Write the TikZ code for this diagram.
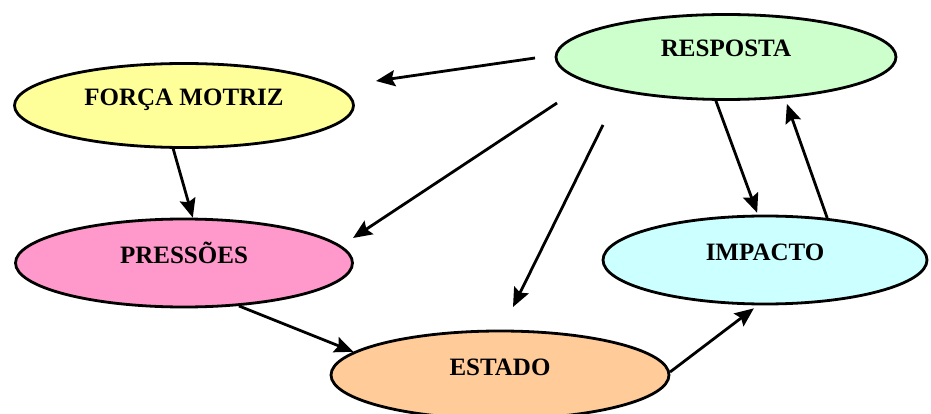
\documentclass[tikz,border=0pt]{standalone}
\usepackage{fontspec}
\setmainfont{Liberation Serif}
\usetikzlibrary{shapes.geometric,arrows.meta}

\definecolor{forcacol}{RGB}{255,255,153}
\definecolor{respostacol}{RGB}{204,255,204}
\definecolor{pressoescol}{RGB}{255,153,204}
\definecolor{impactocol}{RGB}{204,255,255}
\definecolor{estadocol}{RGB}{255,204,153}

\begin{document}
\begin{tikzpicture}[x=1pt,y=-1pt,
    bubble/.style={ellipse,draw,line width=2.8pt,inner sep=0pt,
        font=\fontsize{25}{30}\selectfont\bfseries,
        text height=17pt,text depth=17pt},
    flow/.style={line width=2.8pt,-{Stealth[length=19pt,width=16pt,inset=3pt]}}]

    % Fix the frame of the picture
    \useasboundingbox (0,0) rectangle (931,414);

    % Draw the five ellipses
    \node[bubble,fill=forcacol,minimum width=339pt,minimum height=84pt] (forca) at (184,105.5) {FORÇA MOTRIZ};
    \node[bubble,fill=respostacol,minimum width=340pt,minimum height=85pt] (resposta) at (726,57) {RESPOSTA};
    \node[bubble,fill=pressoescol,minimum width=337pt,minimum height=88pt] (pressoes) at (184,263) {PRESSÕES};
    \node[bubble,fill=impactocol,minimum width=324pt,minimum height=88pt] (impacto) at (765,260) {IMPACTO};
    \node[bubble,fill=estadocol,minimum width=338pt,minimum height=88pt] (estado) at (500,375) {ESTADO};

    % Free ends of the arrows leaving RESPOSTA
    \coordinate (r1) at (535,58);
    \coordinate (f1) at (376,81);
    \coordinate (r2) at (557,103);
    \coordinate (p2) at (353,238);
    \coordinate (r3) at (603,125);
    \coordinate (e3) at (513,307);

    % Arrows from RESPOSTA
    \draw[flow] (r1) -- (f1);
    \draw[flow] (r2) -- (p2);
    \draw[flow] (r3) -- (e3);
    \draw[flow,shorten >=2pt] (resposta.257) -- (impacto.99);

    % Arrow back from IMPACTO
    \draw[flow,shorten >=6pt] (impacto.34) -- (resposta.325);

    % The chain down the left side and to the right
    \draw[flow] (forca.256) -- (pressoes.79);
    \draw[flow] (pressoes.322) -- (estado.171);
    \draw[flow,shorten >=5pt] (estado.1) -- (impacto.261);

\end{tikzpicture}
\end{document}
